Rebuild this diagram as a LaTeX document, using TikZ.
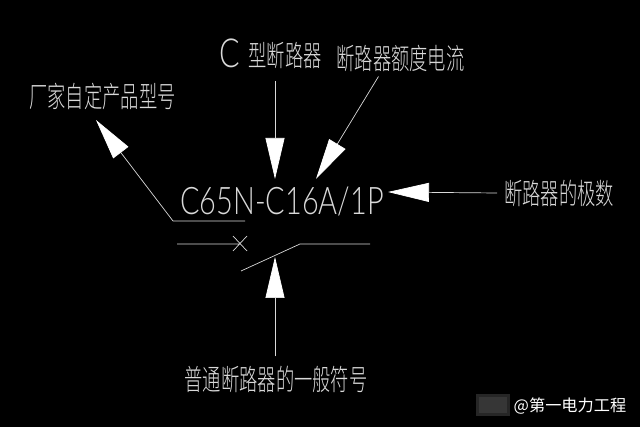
\documentclass[tikz,border=0pt]{standalone}
\usepackage{fontspec}
\usetikzlibrary{arrows.meta}
\newfontfamily\cadcjk[FakeStretch=.63]{Noto Sans CJK SC Light}
\newfontfamily\cadlatin[FakeStretch=.76]{Lato Light}
\newfontfamily\markcjk{Noto Sans CJK SC}
\definecolor{cadline}{gray}{.85}
\tikzset{
  leader/.style={cadline,line width=.7pt,-{Triangle[length=41pt,width=19pt,color=white]}},
  cadline/.style={draw=cadline,line width=.7pt},
  cadlabel/.style={text=cadline,inner sep=0pt,font=\cadcjk\fontsize{29}{29}\selectfont}
}
\begin{document}
\begin{tikzpicture}[x=1pt,y=-1pt]
    \fill[black] (0,0) rectangle (640,427);
    \useasboundingbox (0,0) rectangle (640,427);
    % labels
    \node[text=cadline,inner sep=0pt,font=\cadlatin\fontsize{38}{38}\selectfont] (model) at (282,201) {C65N-C16A/1P};
    \node[text=cadline,inner sep=0pt,font=\cadlatin\fontsize{40}{40}\selectfont] (ctype) at (230,53) {C};
    \node[cadlabel] (breaker) at (285,56) {型断路器};
    \node[cadlabel] (rated) at (400.5,58) {断路器额度电流};
    \node[cadlabel] (maker) at (102.5,96) {厂家自定产品型号};
    \node[cadlabel] (poles) at (559,193) {断路器的极数};
    \node[cadlabel] (symbol) at (276,379) {普通断路器的一般符号};
    % arrows
    \coordinate (ctip) at (275,179);
    \coordinate (rtip) at (316,179);
    \coordinate (mtip) at (96,120);
    \coordinate (ptip) at (388,192);
    \coordinate (stip) at (275,257);
    \coordinate (mend) at (245,221);
    \coordinate (mknee) at (173,221);
    \draw[leader] (275,81) -- (ctip);
    \draw[leader] ([xshift=-22pt,yshift=-5pt]rated.south) -- (rtip);
    \draw[leader] (mend) -- (mknee) -- (mtip);
    \draw[leader] (poles.west -| 497,192) -- (ptip);
    \draw[leader] ([xshift=-1pt,yshift=9pt]symbol.north) -- (stip);
    % breaker symbol
    \draw[cadline] (177,244) -- (240,244) (233,236) -- (247,251) (247,236) -- (233,251);
    \draw[cadline] (241,271) -- (300,244) -- (370,244);
    % watermark
    \fill[gray!30!black] (476,394) rectangle (510,416);
    \fill[gray!42!black] (479,397) rectangle (507,413);
    \node[text=white,inner sep=0pt,font=\markcjk\fontsize{16.2}{16.2}\selectfont] (mark) at (570,406) {@第一电力工程};
  \end{tikzpicture}
\end{document}
